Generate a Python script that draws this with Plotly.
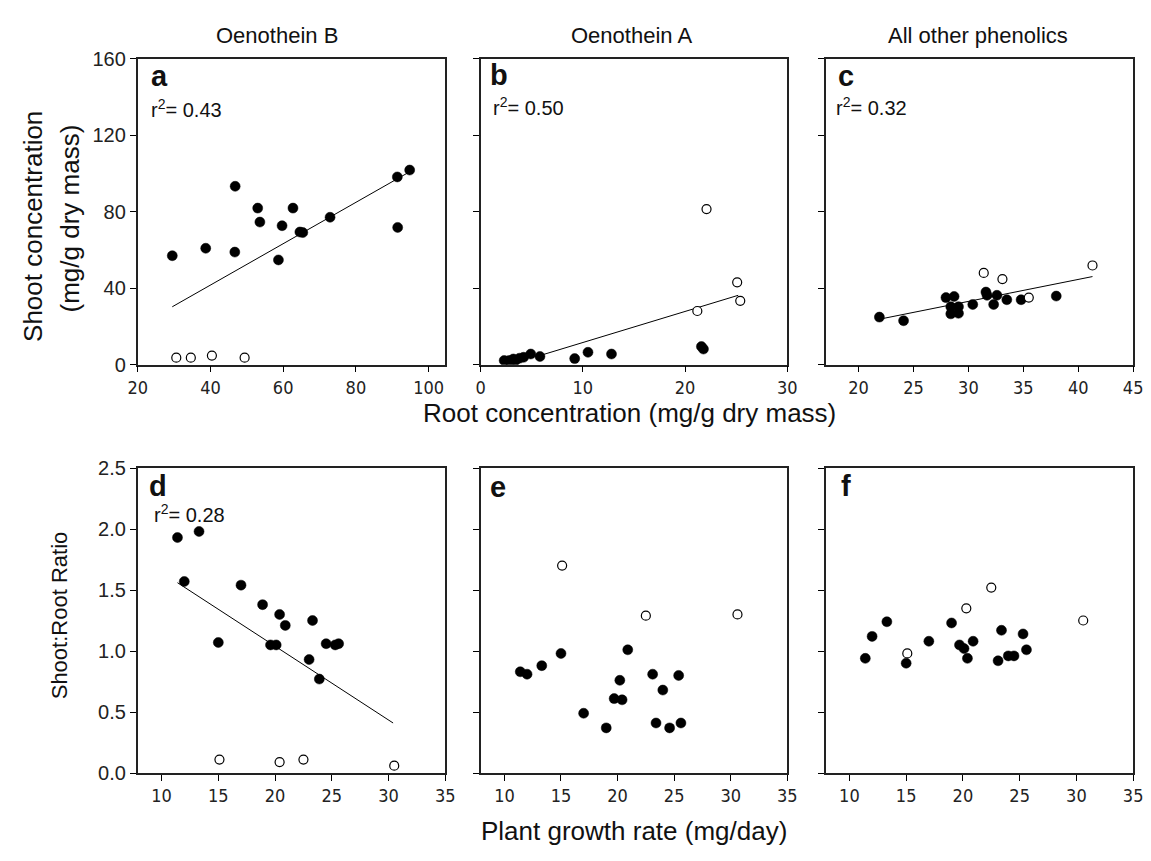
import plotly.graph_objects as go

W, H = 1151, 861

# ---------------- data ----------------
# Panel a: Oenothein B, root vs shoot
a_fill_x = [29.5, 38.7, 46.8, 46.7, 53.0, 53.6, 59.7, 58.7, 62.7, 64.6, 65.4, 72.9, 91.4, 91.5, 94.8]
a_fill_y = [57.0, 60.9, 93.3, 58.9, 81.9, 74.6, 72.7, 54.8, 81.9, 69.4, 69.1, 77.1, 98.2, 71.8, 101.8]
a_open_x = [30.6, 34.6, 40.4, 49.4]
a_open_y = [3.7, 3.7, 4.8, 3.7]
a_fit_x = [29.5, 94.8]
a_fit_y = [30.3, 100.9]

# Panel b: Oenothein A
b_fill_x = [2.3, 2.8, 3.2, 3.4, 3.8, 4.2, 4.9, 5.8, 9.2, 10.5, 12.8, 21.6, 21.8]
b_fill_y = [2.2, 2.2, 3.0, 2.2, 3.4, 3.9, 5.6, 4.3, 3.2, 6.5, 5.6, 9.5, 8.2]
b_open_x = [22.1, 25.1, 25.4, 21.2]
b_open_y = [81.4, 43.1, 33.4, 28.1]
b_fit_x = [5.8, 25.2]
b_fit_y = [4.8, 36.3]

# Panel c: all other phenolics
c_fill_x = [21.9, 24.1, 27.96, 28.7, 28.4, 28.4, 29.1, 29.1, 30.4, 31.6, 31.7, 32.3, 32.6, 33.5, 34.8, 38.0]
c_fill_y = [24.9, 23.0, 35.1, 35.7, 30.3, 26.6, 30.3, 26.9, 31.5, 38.0, 36.3, 31.5, 36.3, 34.0, 34.0, 35.9]
c_open_x = [31.4, 33.1, 35.5, 41.3]
c_open_y = [48.0, 44.8, 35.1, 51.9]
c_fit_x = [21.9, 41.3]
c_fit_y = [23.8, 46.1]

# Panel d: growth vs shoot:root ratio (Oenothein B)
d_fill_x = [11.4, 13.3, 12.0, 17.0, 18.9, 20.4, 20.9, 23.3, 15.0, 19.6, 20.1, 23.0, 23.9, 24.5, 25.3, 25.6]
d_fill_y = [1.93, 1.98, 1.57, 1.54, 1.38, 1.30, 1.21, 1.25, 1.07, 1.05, 1.05, 0.93, 0.77, 1.06, 1.05, 1.06]
d_open_x = [15.1, 20.4, 22.5, 30.5]
d_open_y = [0.11, 0.09, 0.11, 0.06]
d_fit_x = [11.4, 30.4]
d_fit_y = [1.56, 0.41]

# Panel e: Oenothein A
e_fill_x = [11.4, 12.0, 13.3, 15.0, 17.0, 19.0, 19.7, 20.4, 20.2, 20.9, 23.1, 23.4, 24.0, 24.6, 25.4, 25.6]
e_fill_y = [0.83, 0.81, 0.88, 0.98, 0.49, 0.37, 0.61, 0.60, 0.76, 1.01, 0.81, 0.41, 0.68, 0.37, 0.80, 0.41]
e_open_x = [15.1, 22.5, 30.6]
e_open_y = [1.70, 1.29, 1.30]

# Panel f: all other phenolics
f_fill_x = [11.4, 12.0, 13.3, 15.0, 17.0, 19.0, 19.7, 20.1, 20.4, 20.9, 23.1, 23.4, 24.0, 24.5, 25.3, 25.6]
f_fill_y = [0.94, 1.12, 1.24, 0.90, 1.08, 1.23, 1.05, 1.02, 0.94, 1.08, 0.92, 1.17, 0.96, 0.96, 1.14, 1.01]
f_open_x = [15.1, 20.3, 22.5, 30.6]
f_open_y = [0.98, 1.35, 1.52, 1.25]

column_titles = ["Oenothein B", "Oenothein A", "All other phenolics"]
panel_letters = ["a", "b", "c", "d", "e", "f"]
r2_labels = {"a": "0.43", "b": "0.50", "c": "0.32", "d": "0.28"}

top_ticks_a = [20, 40, 60, 80, 100]
top_ticks_b = [0, 10, 20, 30]
top_ticks_c = [20, 25, 30, 35, 40, 45]
top_yticks = [0, 40, 80, 120, 160]
bot_xticks = [10, 15, 20, 25, 30, 35]
bot_yticks = [0.0, 0.5, 1.0, 1.5, 2.0, 2.5]

# ---------------- layout helpers ----------------
def px(x):
    return x / W

def py(y):
    return 1 - y / H

SANS = "Liberation Sans, Arial, Helvetica, sans-serif"
NARROW = "Liberation Sans Narrow, Arial Narrow, DejaVu Sans Condensed, Liberation Sans, sans-serif"

cols = [(130, 443), (479, 791), (830, 1143)]
rows = [(49, 363), (469, 782)]

fig = go.Figure()

panels = [
    dict(fx=a_fill_x, fy=a_fill_y, ox=a_open_x, oy=a_open_y, lx=a_fit_x, ly=a_fit_y),
    dict(fx=b_fill_x, fy=b_fill_y, ox=b_open_x, oy=b_open_y, lx=b_fit_x, ly=b_fit_y),
    dict(fx=c_fill_x, fy=c_fill_y, ox=c_open_x, oy=c_open_y, lx=c_fit_x, ly=c_fit_y),
    dict(fx=d_fill_x, fy=d_fill_y, ox=d_open_x, oy=d_open_y, lx=d_fit_x, ly=d_fit_y),
    dict(fx=e_fill_x, fy=e_fill_y, ox=e_open_x, oy=e_open_y, lx=None, ly=None),
    dict(fx=f_fill_x, fy=f_fill_y, ox=f_open_x, oy=f_open_y, lx=None, ly=None),
]

xranges = [[20, 104.6], [0, 30], [17.0, 45], [7.9, 35], [7.9, 35], [7.9, 35]]
xtickvals = [top_ticks_a, top_ticks_b, top_ticks_c, bot_xticks, bot_xticks, bot_xticks]
yranges = [[0, 160]] * 3 + [[0, 2.5]] * 3
ytickvals = [top_yticks] * 3 + [bot_yticks] * 3

for i, p in enumerate(panels):
    n = i + 1
    xa = "x" if n == 1 else f"x{n}"
    ya = "y" if n == 1 else f"y{n}"
    if p["lx"] is not None:
        fig.add_trace(go.Scatter(x=p["lx"], y=p["ly"], mode="lines",
                                 line=dict(color="black", width=1),
                                 xaxis=xa, yaxis=ya, showlegend=False, hoverinfo="skip"))
    fig.add_trace(go.Scatter(x=p["fx"], y=p["fy"], mode="markers",
                             marker=dict(size=10, color="black", line=dict(color="black", width=0.5)),
                             xaxis=xa, yaxis=ya, showlegend=False))
    fig.add_trace(go.Scatter(x=p["ox"], y=p["oy"], mode="markers",
                             marker=dict(size=9, color="white", line=dict(color="black", width=1.2)),
                             xaxis=xa, yaxis=ya, showlegend=False, cliponaxis=False))

    r = 0 if i < 3 else 1
    c = i % 3
    x0, x1 = cols[c]
    y0, y1 = rows[r]
    xkey = "xaxis" if n == 1 else f"xaxis{n}"
    ykey = "yaxis" if n == 1 else f"yaxis{n}"
    fig.update_layout(**{
        xkey: dict(domain=[px(x0), px(x1)], range=xranges[i], anchor=ya,
                   tickvals=xtickvals[i], ticks="outside", ticklen=6, tickwidth=1.2,
                   tickcolor="black", showline=True, linecolor="#222", linewidth=1.5,
                   mirror=True, showgrid=False, zeroline=False,
                   tickfont=dict(family=NARROW, size=18, color="#222")),
        ykey: dict(domain=[py(y1), py(y0)], range=yranges[i], anchor=xa,
                   tickvals=ytickvals[i], ticks="outside", ticklen=6, tickwidth=1.2,
                   tickcolor="black", showline=True, linecolor="#222", linewidth=1.8,
                   mirror=True, showgrid=False, zeroline=False,
                   showticklabels=(c == 0),
                   tickformat=(".1f" if r == 1 else "d"),
                   tickfont=dict(family=SANS, size=20, color="#222")),
    })

annotations = []

def add_text(text, x, y, size, xanchor="center", yanchor="middle", angle=0, bold=False, family=SANS):
    annotations.append(dict(text=(f"<b>{text}</b>" if bold else text),
                            x=px(x), y=py(y), xref="paper", yref="paper",
                            xanchor=xanchor, yanchor=yanchor, textangle=angle,
                            showarrow=False,
                            font=dict(family=family, size=size, color="#111")))

# column titles
for t, cx in zip(column_titles, [272, 632, 985]):
    add_text(t, cx, 25, 22)

# panel letters
letter_pos = {"a": (141, 67), "b": (486, 66), "c": (841, 67),
              "d": (139, 487), "e": (486, 488), "f": (844, 487)}
for L in panel_letters:
    lx, ly = letter_pos[L]
    add_text(L, lx, ly, 29, xanchor="left", bold=True)

r2_pos = {"a": (141, 100), "b": (489, 98), "c": (839, 98), "d": (145, 516)}
for L, v in r2_labels.items():
    rx, ry = r2_pos[L]
    add_text(f"r<sup>2</sup>= {v}", rx, ry, 20, xanchor="left")

# axis titles
add_text("Shoot concentration", 24, 221, 26, angle=-90)
add_text("(mg/g dry mass)", 61, 213, 26, angle=-90)
add_text("Shoot:Root Ratio", 50, 620, 22, angle=-90)
add_text("Root concentration (mg/g dry mass)", 630, 413, 26)
add_text("Plant growth rate (mg/day)", 635, 842, 26)

fig.update_layout(width=W, height=H, margin=dict(l=0, r=0, t=0, b=0),
                  paper_bgcolor="white", plot_bgcolor="white",
                  annotations=annotations, showlegend=False)

fig.write_html("out.html")
